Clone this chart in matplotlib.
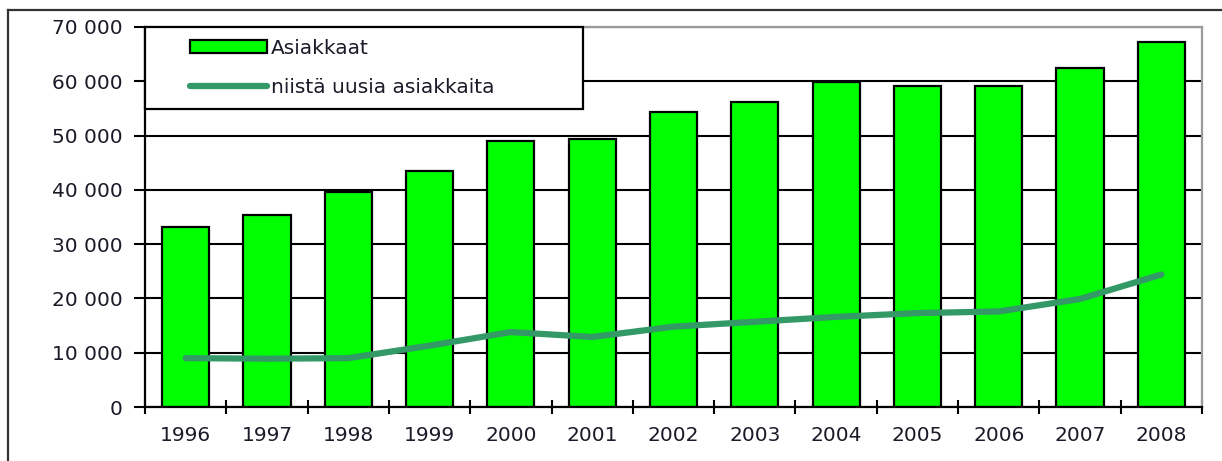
import matplotlib
matplotlib.use("Agg")
import matplotlib.pyplot as plt
from matplotlib.patches import Rectangle
from matplotlib.lines import Line2D
import numpy as np

years = ["1996", "1997", "1998", "1999", "2000", "2001", "2002",
         "2003", "2004", "2005", "2006", "2007", "2008"]
asiakkaat = [33200, 35400, 39600, 43500, 49000, 49400, 54300,
             56100, 59800, 59100, 59100, 62400, 67200]
uudet = [9000, 8900, 9000, 11300, 13800, 12900, 14800,
         15700, 16600, 17300, 17600, 19900, 24400]
yticks = [0, 10000, 20000, 30000, 40000, 50000, 60000, 70000]
label_bar = "Asiakkaat"
label_line = "niistä uusia asiakkaita"

plt.rcParams['font.family'] = ['DejaVu Sans']
txt_color = '#1a1a28'
fs = 14.5

W, H = 1222, 461
fig = plt.figure(figsize=(W / 100, H / 100), dpi=100)
fig.patch.set_facecolor('white')

# outer frame lines (top and left)
fig.add_artist(Line2D([8 / W, 1.0], [1 - 10 / H, 1 - 10 / H], color='#333333', lw=1.6,
                      transform=fig.transFigure))
fig.add_artist(Line2D([8 / W, 8 / W], [1 - 10 / H, 0], color='#333333', lw=1.6,
                      transform=fig.transFigure))

left, right, top, bottom = 145, 1202, 27, 407
ax = fig.add_axes([left / W, 1 - bottom / H, (right - left) / W, (bottom - top) / H])

x = np.arange(len(years))
ax.set_axisbelow(True)
ax.yaxis.grid(True, color='black', lw=1.5)
bars = ax.bar(x, asiakkaat, width=0.58, color='#00FF00', edgecolor='black', lw=1.6, zorder=2,
              label=label_bar)
line, = ax.plot(x, uudet, color='#339966', lw=4.5, solid_capstyle='round',
                solid_joinstyle='round', zorder=3, label=label_line)

ax.set_xlim(-0.5, len(years) - 0.5)
ax.set_ylim(0, 70000)
ax.set_yticks(yticks)
ax.set_yticklabels([f"{v:,}".replace(",", " ") for v in yticks], fontsize=fs, color=txt_color)
ax.set_xticks(x)
ax.set_xticklabels(years, fontsize=fs, color=txt_color)
ax.set_xticks(np.arange(-0.5, len(years)), minor=True)
ax.tick_params(axis='x', which='major', length=0, pad=14)
ax.tick_params(axis='x', which='minor', direction='inout', length=10, width=1.5, color='black')
ax.tick_params(axis='y', which='major', direction='out', length=8, width=1.5, pad=8, color='black')

for s in ['left', 'bottom']:
    ax.spines[s].set_color('black')
    ax.spines[s].set_linewidth(1.6)
for s in ['top', 'right']:
    ax.spines[s].set_color('#9a9a9a')
    ax.spines[s].set_linewidth(1.6)

# legend box
bw = (583 - left) / (right - left)
bh = (109 - top) / (bottom - top)
ax.add_patch(Rectangle((0, 1 - bh), bw, bh, transform=ax.transAxes, facecolor='white',
                       edgecolor='black', lw=1.6, zorder=4, clip_on=False))
leg = ax.legend(handles=[bars, line], labels=[label_bar, label_line],
                loc='center left', bbox_to_anchor=((180 - left) / (right - left),
                                                   (bottom - 68) / (bottom - top)),
                frameon=False, borderpad=0, fontsize=fs, handlelength=3.8, handleheight=0.62,
                handletextpad=0.2, labelspacing=1.0)
leg.set_zorder(5)
for t in leg.get_texts():
    t.set_color(txt_color)

fig.savefig("out.png", dpi=100, facecolor='white')
